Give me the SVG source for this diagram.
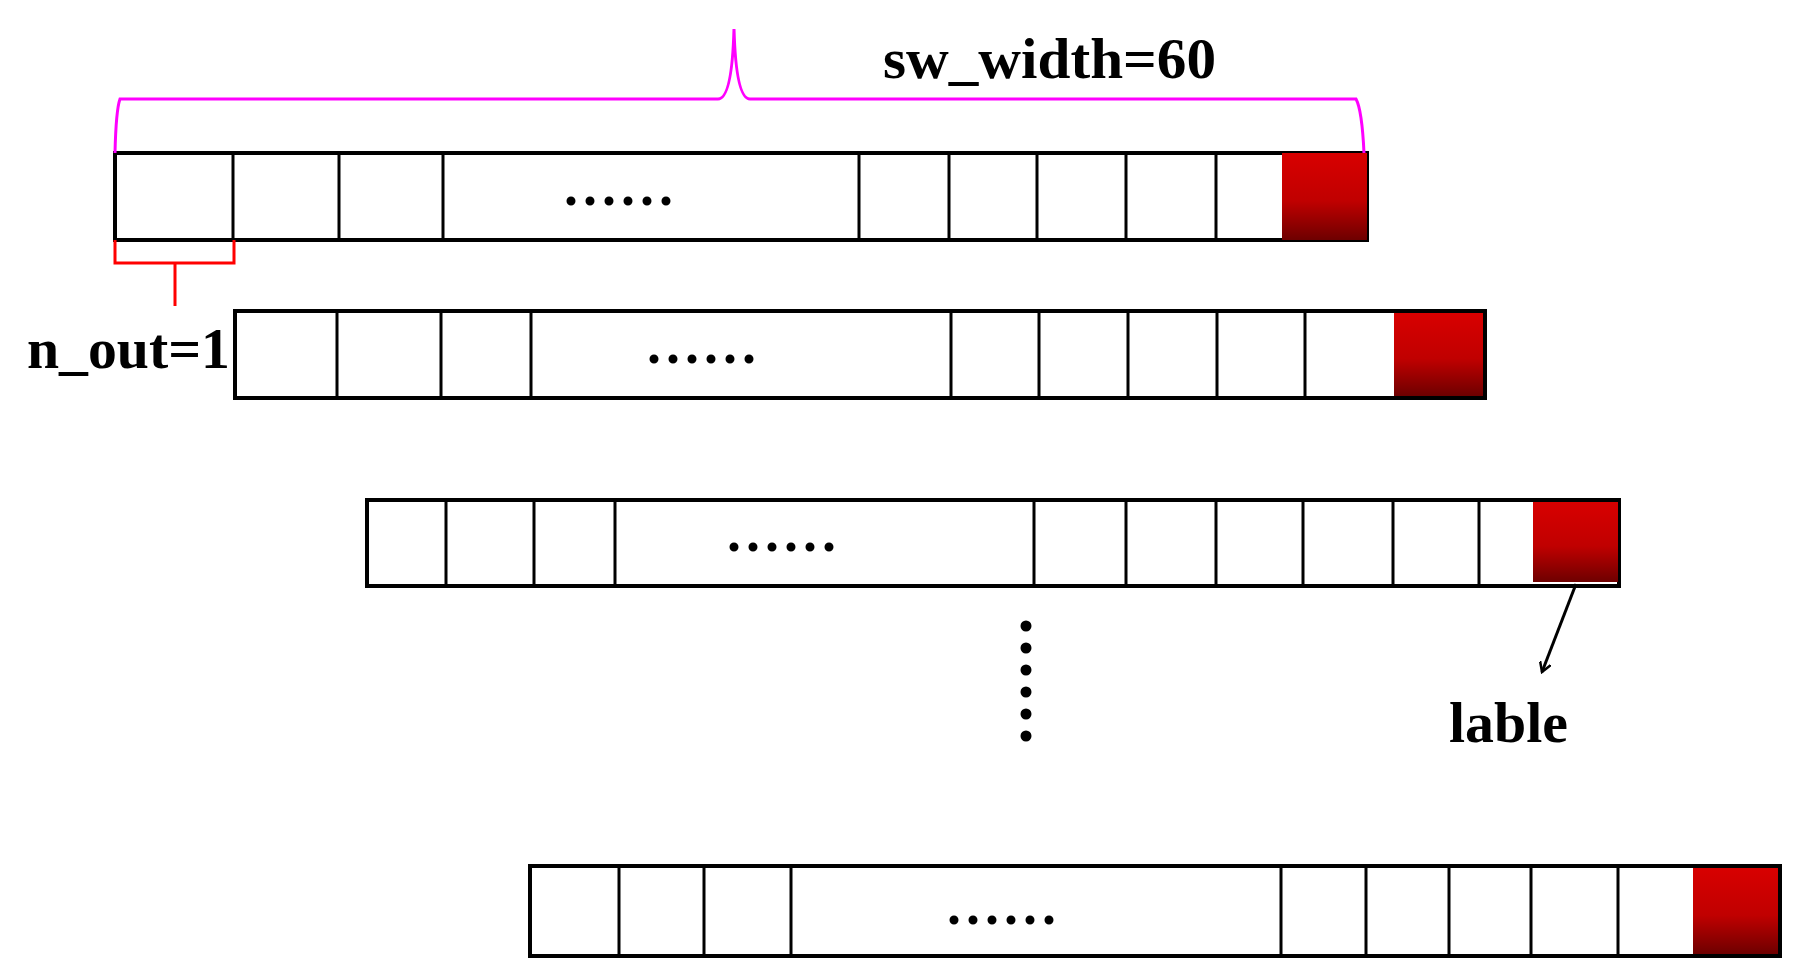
<svg xmlns="http://www.w3.org/2000/svg" width="1818" height="978" viewBox="0 0 1818 978">
<style>
.bar{fill:#fff;stroke:#000;stroke-width:4}
.div{stroke:#000;stroke-width:3}
.red{fill:url(#rg)}
.t{font-family:"Liberation Serif",serif;font-weight:bold;font-size:56px;fill:#000}
.dots{stroke:#000;stroke-width:9;stroke-linecap:round;stroke-dasharray:0 19}
.vd{stroke:#000;stroke-width:11;stroke-linecap:round;stroke-dasharray:0 22}
</style>
<defs>
<linearGradient id="rg" x1="0" y1="0" x2="0" y2="1"><stop offset="0" stop-color="#d80000"/><stop offset="0.55" stop-color="#c00000"/><stop offset="1" stop-color="#6e0000"/></linearGradient>
<marker id="ah" markerWidth="12" markerHeight="12" refX="10" refY="6" orient="auto" markerUnits="userSpaceOnUse"><path d="M0,0 L10,6 L0,12" fill="none" stroke="#000" stroke-width="2.5"/></marker>
</defs>
<g id="bar1">
<rect class="bar" x="115" y="153" width="1252" height="87"/>
<rect class="red" x="1282" y="153" width="85" height="87"/>
<path class="div" d="M233,155V238M339,155V238M443,155V238M859,155V238M949,155V238M1037,155V238M1126,155V238M1216,155V238"/>
<line class="dots" x1="571" y1="201" x2="680" y2="201"/>
</g>
<g id="bar2">
<rect class="bar" x="235" y="311" width="1250" height="87"/>
<rect class="red" x="1394" y="313" width="89" height="83"/>
<path class="div" d="M337,313V396M441,313V396M531,313V396M951,313V396M1039,313V396M1128,313V396M1217,313V396M1305,313V396"/>
<line class="dots" x1="654" y1="359" x2="763" y2="359"/>
</g>
<g id="bar3">
<rect class="bar" x="367" y="500" width="1252" height="86"/>
<rect class="red" x="1533" y="502" width="85" height="80"/>
<path class="div" d="M446,502V584M534,502V584M615,502V584M1034,502V584M1126,502V584M1216,502V584M1303,502V584M1393,502V584M1479,502V584"/>
<line class="dots" x1="734" y1="547" x2="843" y2="547"/>
</g>
<g id="bar4">
<rect class="bar" x="530" y="866" width="1250" height="90"/>
<rect class="red" x="1693" y="868" width="85" height="86"/>
<path class="div" d="M619,868V954M704,868V954M791,868V954M1281,868V954M1366,868V954M1449,868V954M1531,868V954M1618,868V954"/>
<line class="dots" x1="954" y1="920" x2="1063" y2="920"/>
</g>
<g id="vdots"><line class="vd" x1="1026" y1="626" x2="1026" y2="758"/></g>
<g id="brace">
<path d="M115,153 Q116,110 120,99 H718 Q732,99 734,29 Q736,99 750,99 H1356 Q1362,110 1364,153" fill="none" stroke="#ff00ff" stroke-width="3"/>
<text class="t" x="883" y="78" textLength="333" lengthAdjust="spacingAndGlyphs">sw_width=60</text>
</g>
<g id="nout">
<path d="M115,240V263H234V240M175,263V306" fill="none" stroke="#ff0000" stroke-width="3"/>
<text class="t" x="27" y="368" textLength="203" lengthAdjust="spacingAndGlyphs">n_out=1</text>
</g>
<g id="connectors">
<line x1="1576" y1="584" x2="1542" y2="672" stroke="#000" stroke-width="3" marker-end="url(#ah)"/>
</g>
<g id="label"><text class="t" x="1449" y="742" textLength="119" lengthAdjust="spacingAndGlyphs">lable</text></g>
</svg>
